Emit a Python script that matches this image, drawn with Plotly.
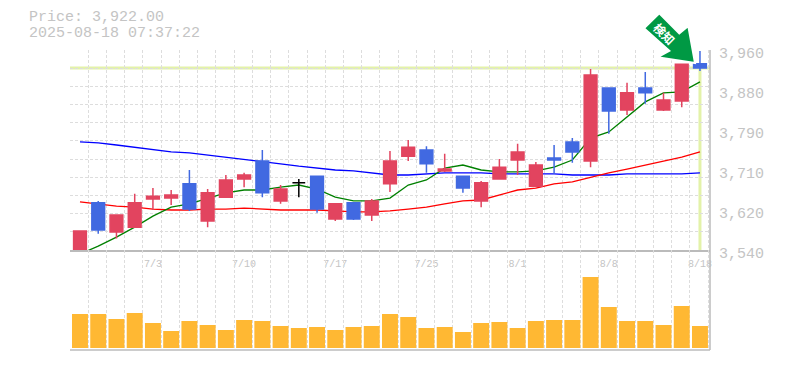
import plotly.graph_objects as go

idx = list(range(35))
opens = [3539,3639,3578,3588,3647,3649,3679,3601,3651,3689,3727,3643,3681,3695,3605,3639,3613.5,3679,3737,3750,3706,3695,3643,3689,3729,3674,3733,3767,3727,3880,3834,3880,3834,3853,3931]
highs = [3580,3643,3613.5,3658,3670,3666,3708,3668,3697.5,3702,3750,3676.5,3689,3695,3637,3639,3647,3748,3771,3758,3742,3695,3685,3731,3763,3725,3760.5,3775,3920,3880,3891,3914,3870,3930,3958]
lows = [3539,3574,3564,3588,3624,3634.5,3622,3588,3649,3672,3651,3637,3651,3618,3601,3603,3601,3662,3727,3702,3704,3660,3630,3689,3697.5,3672,3700,3723,3714,3784,3823.5,3847,3832,3840,3916]
closes = [3580,3582,3613.5,3639,3653,3655.5,3626,3660,3687,3697.5,3660,3668,3681,3626,3637,3605,3643,3727,3756,3721,3710,3670,3681,3714,3746,3718.5,3729,3746,3907.5,3832,3870,3870,3855,3930,3922]
doji_index = 12
volumes = [34,34,29,35,25,17,27,23,18,28,27,22,20,21,18,21,22,34,31,20,21,16,25,26,20,27,28,28,71,41,27,27,23,42,22]
ma_short = [3531.6,3548,3567,3588,3611,3630,3637,3649,3660,3666,3666,3672,3676.5,3668,3651,3643,3643,3649,3676.5,3687,3712,3718.5,3708,3704,3704,3706,3714,3729,3775,3788,3819,3851,3870,3872,3893]
ma_mid = [3641,3637,3632,3630,3626,3624,3624,3626,3626,3628,3626,3624,3624,3624,3622,3620,3620,3622,3626,3630,3637,3643,3645,3655.5,3666,3670,3679,3683,3693,3702,3710,3718.5,3727,3735,3746]
ma_long = [3767,3765,3760.5,3756,3752,3746,3744,3739.5,3735,3731,3727,3721,3716,3712,3708,3706,3702,3697.5,3697.5,3700,3702,3702,3702,3700,3700,3700,3700,3697.5,3697.5,3697.5,3700,3700,3700,3700,3702]
date_ticks = [4,9,14,19,24,29,34]
date_labels = ["7/3","7/10","7/17","7/25","8/1","8/8","8/18"]
price_ticks = [3540,3624,3708,3792,3876,3960]
price_labels = ["3,540","3,620","3,710","3,790","3,880","3,960"]
current_price = 3922
price_text = "Price: 3,922.00"
time_text = "2025-08-18 07:37:22"
signal_text = "検知"

UP = "#E2445F"
DOWN = "#4169E1"
MONO = "Liberation Mono"
XR = [-0.548, 34.55]
PR = [3540, 3960]

fig = go.Figure()
fig.add_bar(x=idx, y=volumes, xaxis="x", yaxis="y2", width=0.875, marker=dict(color="#FFB833", line_width=0), showlegend=False)
for vals, col in [(ma_long, "#0000FF"), (ma_mid, "#FF0000"), (ma_short, "#008000")]:
    fig.add_scatter(x=idx, y=vals, xaxis="x", yaxis="y", mode="lines", line=dict(color=col, width=1.3), cliponaxis=False, showlegend=False)

ci = [i for i in idx if i != doji_index]
def pick(a, keep):
    return [a[i] for i in keep]
fig.add_candlestick(x=ci, open=pick(opens, ci), high=pick(highs, ci), low=pick(lows, ci), close=pick(closes, ci),
                    xaxis="x", yaxis="y3", whiskerwidth=0,
                    increasing=dict(fillcolor=UP, line=dict(color=UP, width=1.5)),
                    decreasing=dict(fillcolor=DOWN, line=dict(color=DOWN, width=1.5)), showlegend=False)
d = [doji_index]
fig.add_candlestick(x=d, open=pick(opens, d), high=pick(highs, d), low=pick(lows, d), close=pick(closes, d),
                    xaxis="x", yaxis="y3", whiskerwidth=0,
                    increasing=dict(fillcolor="#000000", line=dict(color="#000000", width=1.5)),
                    decreasing=dict(fillcolor="#000000", line=dict(color="#000000", width=1.5)), showlegend=False)

GRID = "#DDDDDD"
AX = "#BBBBBB"
DASH = "3px,2px"
arrow_path = "M -35.7 49.7 L -51 34.7 L -25.7 12.3 L -37.7 5.7 L 0 0 L -6.7 37 L -15.7 29.7 Z"
fig.update_layout(
    width=785, height=370, margin=dict(l=70, r=75, t=50, b=20, autoexpand=False),
    paper_bgcolor="#FFFFFF", plot_bgcolor="#FFFFFF", boxgap=0.0, barmode="overlay",
    font=dict(family=MONO, color="#C4C4C4"), showlegend=False, hovermode=False,
    xaxis=dict(domain=[0, 1], range=XR, anchor="y", tickmode="array", tickvals=date_ticks, ticktext=date_labels,
               showgrid=False, zeroline=False, showline=True, linecolor=AX, linewidth=1.5, ticks="", ticklabelstandoff=3,
               tickfont=dict(family=MONO, size=10, color="#C4C4C4"), rangeslider=dict(visible=False),
               minor=dict(tick0=-0.548, dtick=1, showgrid=True, gridcolor=GRID, griddash=DASH, gridwidth=1, ticks="")),
    yaxis=dict(domain=[1/3, 1], range=PR, side="right", anchor="x", tickmode="array", tickvals=price_ticks, ticktext=price_labels,
               showgrid=False, zeroline=False, showline=False, ticks="", ticklabelstandoff=8, ticklabelshift=3,
               tickfont=dict(family=MONO, size=15, color="#C4C4C4"),
               minor=dict(tick0=3540, dtick=420/11, showgrid=True, gridcolor=GRID, griddash=DASH, gridwidth=1, ticks="")),
    yaxis2=dict(domain=[0, 1/3], range=[-2, 98], anchor="x", showgrid=False, zeroline=False, showticklabels=False, ticks=""),
    yaxis3=dict(domain=[1/3, 1], range=PR, overlaying="y", anchor="x", showgrid=False, zeroline=False, showticklabels=False, ticks=""),
    shapes=[
        dict(type="line", xref="x", yref="y", x0=XR[0], x1=XR[1], y0=current_price, y1=current_price, line=dict(color="#E3F2A9", width=3), layer="below"),
        dict(type="line", xref="x", yref="y", x0=idx[-1], x1=idx[-1], y0=PR[0], y1=current_price, line=dict(color="#E3F2A9", width=3), layer="below"),
        dict(type="line", xref="paper", yref="paper", x0=1, x1=1, y0=0, y1=1, line=dict(color=AX, width=1.5), layer="above"),
        dict(type="line", xref="paper", yref="paper", x0=0, x1=1, y0=0, y1=0, line=dict(color=AX, width=1.5), layer="above"),
        dict(type="path", xref="paper", yref="paper", xsizemode="pixel", ysizemode="pixel", xanchor=625/640, yanchor=1-13/300,
             path=arrow_path, fillcolor="#009944", line=dict(color="#FFFFFF", width=2), layer="above"),
    ],
    annotations=[
        dict(text=price_text, xref="paper", yref="paper", x=-43/640, y=1+32/300, xanchor="left", yanchor="middle", showarrow=False, font=dict(family=MONO, size=15, color="#C4C4C4")),
        dict(text=time_text, xref="paper", yref="paper", x=-43/640, y=1+17/300, xanchor="left", yanchor="middle", showarrow=False, font=dict(family=MONO, size=15, color="#C4C4C4")),
        dict(text="<b>"+signal_text+"</b>", xref="paper", yref="paper", x=595/640, y=1+17/300, xanchor="center", yanchor="middle", showarrow=False, textangle=45, font=dict(family="Noto Sans CJK JP", size=12, color="#FFFFFF")),
    ],
)
fig.write_html("out.html", config={"displayModeBar": False}, post_script="document.body.style.margin='0';")
